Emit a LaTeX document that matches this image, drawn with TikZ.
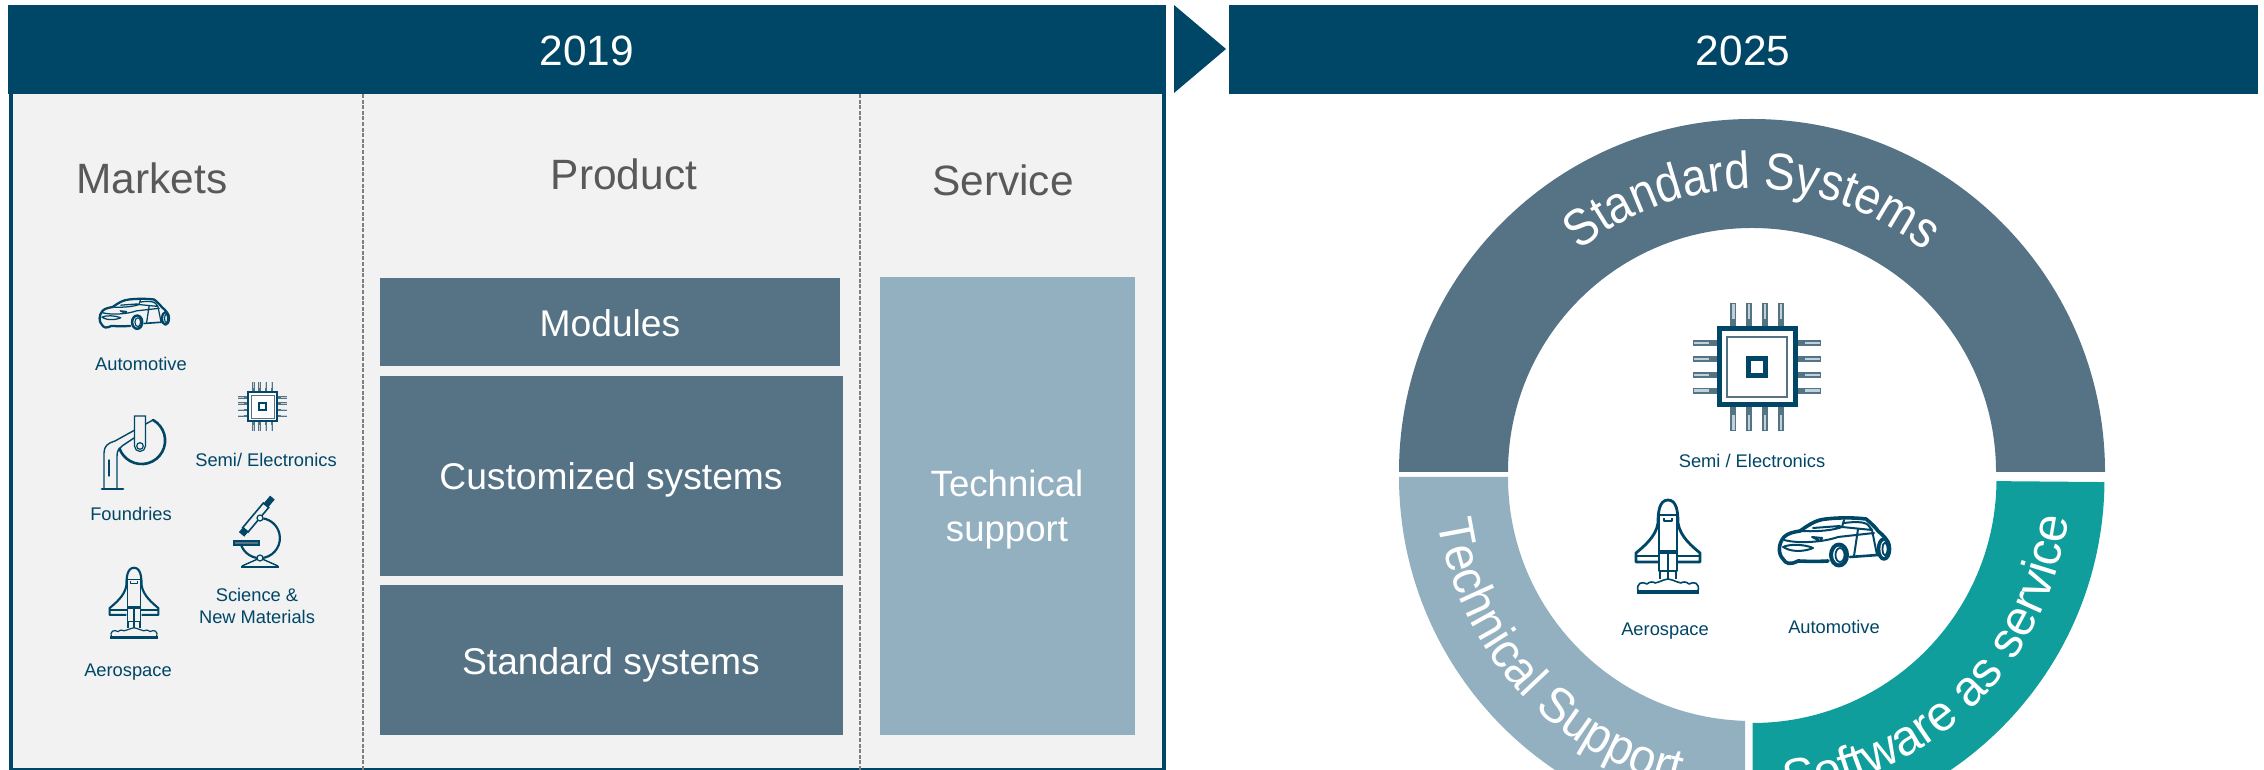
\documentclass[tikz,border=0pt]{standalone}
\usepackage{fontspec}
\setmainfont{Liberation Sans}
\newfontfamily\ringleftfamily[FakeStretch=.94]{Liberation Sans}
\newfontfamily\ringrightfamily[FakeStretch=.98]{Liberation Sans}
\newfontfamily\ringtopfamily[FakeStretch=.88]{Liberation Sans}
\usepackage{tikz}
\usetikzlibrary{decorations.text}

\definecolor{headblue}{HTML}{004666}
\definecolor{slatebox}{HTML}{557385}
\definecolor{steelbox}{HTML}{93B0C0}
\definecolor{ringteal}{HTML}{0F9E9B}
\definecolor{panelgray}{HTML}{F2F2F2}
\definecolor{titlegray}{HTML}{595959}
\definecolor{dashgray}{HTML}{7F7F7F}

\newcommand{\ringleftfont}{\ringleftfamily\fontsize{25}{30}\selectfont\color{white}}
\newcommand{\ringrightfont}{\ringrightfamily\fontsize{25}{30}\selectfont\color{white}}
\newcommand{\ringtopfont}{\ringtopfamily\fontsize{26}{31}\selectfont\color{white}}

\tikzset{
  yeartext/.style={anchor=base, text=white, font=\fontsize{21.2}{25}\selectfont},
  titletext/.style={anchor=base, text=titlegray, font=\fontsize{21.2}{25}\selectfont},
  boxtext/.style={anchor=base, text=white, font=\fontsize{18.6}{22}\selectfont},
  marketlabel/.style={anchor=base, text=headblue, align=center, font=\fontsize{9.15}{11}\selectfont},
  ringtop/.style={decorate, decoration={text along path, text={|\ringtopfont|#1}, text align=center}},
  ringleft/.style={decorate, decoration={text along path, text={|\ringleftfont|#1}}},
  ringright/.style={decorate, decoration={text along path, text={|\ringrightfont|#1}}}
}

% Chip icon: x, y, scale
\newcommand{\chipicon}[3]{
  \begin{scope}[shift={(#1,#2)}, scale=#3]
    \foreach \p in {-23.7,-8,8,23.7} {
      \draw[slatebox, line width=#3*3.1pt] (\p,40) -- (\p,64) (\p,-40) -- (\p,-64) (40,\p) -- (64,\p) (-40,\p) -- (-64,\p);
      \draw[steelbox!60!white, line width=#3*1.2pt] (\p,48) -- (\p,63) (\p,-48) -- (\p,-63) (48,\p) -- (63,\p) (-48,\p) -- (-63,\p);
    }
    \draw[headblue, line width=#3*2.5pt, fill=white] (-38,-38) rectangle (38,38);
    \draw[slatebox, line width=#3*1.2pt] (-30,-30) rectangle (30,30);
    \draw[headblue, line width=#3*2.6pt] (-8.5,-8.5) rectangle (8.5,8.5);
  \end{scope}
}

% Car icon: x, y, scale
\newcommand{\caricon}[3]{
  \begin{scope}[shift={(#1,#2)}, scale=#3, headblue, line cap=round, line join=round]
    \draw[line width=#3*1.8pt] (-6,-19) .. controls (-25,-20) and (-30,-19) .. (-36,-19)
      .. controls (-44,-23) and (-48,-22) .. (-51,-17)
      .. controls (-56,-12) and (-56,-2) .. (-50,5)
      .. controls (-46,9) and (-40,10) .. (-34,11)
      .. controls (-24,18) and (-18,22) .. (-8,23)
      .. controls (5,24.5) and (20,24.5) .. (32,23)
      .. controls (38,18) and (42,14) .. (44,11)
      .. controls (50,6) and (54,2) .. (55,-4);
    \draw[line width=#3*1.3pt] (16,-15) -- (44,-13);
    \draw[line width=#3*2pt] (5,-13) ellipse[x radius=8, y radius=10.5];
    \draw[line width=#3*.9pt] (6,-13) ellipse[x radius=4.5, y radius=7];
    \draw[line width=#3*1.8pt] (50,-7) ellipse[x radius=5.5, y radius=10];
    \draw[line width=#3*.9pt] (51,-7) ellipse[x radius=2.5, y radius=6.5];
    \draw[line width=#3*1pt] (-34,11) .. controls (-15,10) and (0,12) .. (8,15) -- (10,22)
      (-21,14) -- (6,16)
      (10,19) .. controls (18,20) and (30,21) .. (34,17) -- (38,12) -- (8,15)
      (38,12) -- (43,-13) (24,13) -- (20,-14) (-50,2) .. controls (-35,-2) and (-10,0) .. (4,5) -- (40,9)
      (-51,-5) .. controls (-40,-12) and (-25,-8) .. (-21,-6) .. controls (-30,-2) and (-45,-2) .. (-51,-5)
      (-22,5) -- (-12,4) -- (-14,1) -- cycle;
  \end{scope}
}

% Shuttle icon: x, y, scale
\newcommand{\shuttleicon}[3]{
  \begin{scope}[shift={(#1,#2)}, scale=#3, headblue, line join=round]
    \draw[line width=#3*1.4pt] (-10,24) .. controls (-10,34) and (-9,47) .. (0,47) .. controls (9,47) and (10,34) .. (10,24)
      .. controls (12,10) and (25,0) .. (32,-6) -- (32,-15) -- (10,-15)
      (-10,24) .. controls (-12,10) and (-25,0) .. (-32,-6) -- (-32,-15) -- (-10,-15);
    \draw[line width=#3*.7pt] (-9,32) -- (9,32) (-9,32) -- (-9,-24) -- (9,-24) -- (9,32) (0,-5) -- (0,-24)
      (-4,29) -- (-4,26) -- (4,26) -- (4,29);
    \draw[line width=#3*1.6pt] (-9,-5) -- (9,-5);
    \draw[line width=#3*1.1pt] (-32,-9) -- (-9,-9) (9,-9) -- (32,-9);
    \foreach \p in {-8,0,8} {
      \draw[line width=#3*1.3pt] (\p,-25) -- (\p,-32);
    }
    \draw[line width=#3*.8pt] (-30,-44) .. controls (-32,-36) and (-26,-34) .. (-21,-37) .. controls (-18,-34) and (-14,-35) .. (-13,-36)
      .. controls (-8,-35) and (-6,-33) .. (0,-32) .. controls (6,-33) and (8,-35) .. (13,-36)
      .. controls (14,-35) and (18,-34) .. (21,-37) .. controls (26,-34) and (32,-36) .. (30,-44);
    \draw[line width=#3*1.8pt] (-31,-45) -- (31,-45);
  \end{scope}
}

\begin{document}
\begin{tikzpicture}[x=0.5pt, y=0.5pt]
  \useasboundingbox (0,0) rectangle (2264,770);
  \clip (0,0) rectangle (2264,770);

  % Panel 2019
  \draw[line width=2pt, headblue, fill=panelgray] (11,0) rectangle (1163.5,700);
  \draw[dashgray, line width=.75pt, dash pattern=on 2pt off .8pt] (363,676) -- (363,0);
  \draw[dashgray, line width=.75pt, dash pattern=on 2pt off .8pt] (860,676) -- (860,0);

  % Headers
  \fill[headblue] (8,676) rectangle (1166,765);
  \fill[headblue] (1174,765) -- (1226,721) -- (1174,677) -- cycle;
  \fill[headblue] (1229,676) rectangle (2258,765);
  \node[yeartext] (year2019) at (587,704) {2019};
  \node[yeartext] (year2025) at (1743,704) {2025};

  % Column titles
  \node[titletext] (markets) at (152,576) {Markets};
  \node[titletext] (product) at (624,580.5) {Product};
  \node[titletext] (service) at (1003,574) {Service};

  % Product boxes
  \fill[slatebox] (380,404) rectangle (840,492);
  \fill[slatebox] (380,194) rectangle (843,394);
  \fill[slatebox] (380,35) rectangle (843,185);
  \node[boxtext] (modules) at (610,433.5) {Modules};
  \node[boxtext] (customized) at (611,280.5) {Customized systems};
  \node[boxtext] (standard) at (611,95.5) {Standard systems};

  % Service box
  \fill[steelbox] (880,35) rectangle (1135,493);
  \node[text=white, align=center, font=\fontsize{18.3}{22.5}\selectfont] (techsupport) at (1007,260) {Technical\\support};

  % Markets
  \caricon{134}{456}{.63}
  \node[marketlabel] (autoleft) at (141,399) {Automotive};
  \chipicon{262.7}{363.3}{.385}
  \node[marketlabel] (semileft) at (266,303) {Semi/ Electronics};
  \node[marketlabel] (foundries) at (131,249) {Foundries};
  \node[marketlabel] (science) at (257,168) {Science \&};
  \node[marketlabel] (materials) at (257,146) {New Materials};
  \shuttleicon{134}{166.5}{.76}
  \node[marketlabel] (aeroleft) at (128,93) {Aerospace};

  % Foundry icon
  \begin{scope}[shift={(130,317)}, headblue, line cap=round]
    \draw[line width=1.3pt] (23,33) arc[start angle=61, end angle=-160, radius=23.5];
    \draw[line width=.7pt] (-26,-36) -- (-26,0) .. controls (-26,7) and (-22,10) .. (-15,12) -- (23,33);
    \draw[line width=.7pt] (-13,-36) -- (-13,-3) .. controls (-13,2) and (-11,5) .. (-8,7) -- (4,15);
    \draw[line width=.7pt] (-21,-7) -- (-21,-23);
    \draw[line width=1.4pt] (-28,-36) -- (-7,-36);
    \draw[line width=.6pt, fill=panelgray] (4.5,37) -- (15.5,37) -- (15.5,7) arc[start angle=0, end angle=-180, radius=5.5] -- cycle;
    \draw[line width=.6pt] (10,7) circle[radius=3.3];
  \end{scope}

  % Microscope icon
  \begin{scope}[shift={(260,237)}, headblue]
    \draw[line width=1.1pt] (-19.5,-10) arc[start angle=-166, end angle=80, radius=20];
    \draw[line width=1.3pt] (-19,-34) -- (19,-34);
    \draw[line width=.7pt] (-18,-33) -- (0,-25) -- (18,-33);
    \draw[line width=.6pt, fill=panelgray] (0,-25) circle[radius=3];
    \draw[line width=.7pt, fill=slatebox] (-26,-8) rectangle (-1,-12);
    \begin{scope}[shift={(-3,17)}, rotate=50]
      \draw[line width=.8pt, fill=panelgray] (-18,-3.5) rectangle (14,3.5);
      \fill (-24,-3.5) rectangle (-18,3.5);
      \fill (14,-3) rectangle (24,3);
    \end{scope}
    \draw[line width=.6pt, fill=panelgray] (0,15) circle[radius=3];
  \end{scope}

  % Ring segments 2025
  \coordinate (ringc) at (1752,298);
  \coordinate (techc) at (1752,293);
  \coordinate (softc) at (1752.5,291);
  \coordinate (topc) at (1752,311);
  \fill[slatebox] ([shift={(180:353)}]ringc) arc[start angle=180, end angle=0, radius=353]
    -- ([shift={(0:244)}]ringc) arc[start angle=0, end angle=180, radius=244] -- cycle;
  \fill[steelbox] ([shift={(180:353)}]techc) arc[start angle=180, end angle=268.86, radius=353]
    -- ([shift={(268.36:244)}]techc) arc[start angle=268.36, end angle=180, radius=244] -- cycle;
  \fill[ringteal] ([shift={(-.5:352)}]softc) arc[start angle=-.5, end angle=-90, radius=352]
    -- ([shift={(-90:244)}]softc) arc[start angle=-90, end angle=-.5, radius=244] -- cycle;

  % Ring texts
  \path[ringtop={Standard Systems}] ([shift={(150:270)}]topc) arc[start angle=150, end angle=30, radius=270];
  \path[ringleft={Technical Support}] ([shift={(188:317)}]techc) arc[start angle=188, end angle=285, radius=317];
  \path[ringright={Software as service}] ([shift={(-84:318)}]softc) arc[start angle=-84, end angle=8, radius=318];

  % Centre of ring
  \chipicon{1757}{403}{1}
  \node[marketlabel] (semiright) at (1752,302) {Semi / Electronics};
  \shuttleicon{1668}{223}{1}
  \node[marketlabel] (aeroright) at (1665,134) {Aerospace};
  \caricon{1834}{228}{1}
  \node[marketlabel] (autoright) at (1834,136) {Automotive};
\end{tikzpicture}
\end{document}
